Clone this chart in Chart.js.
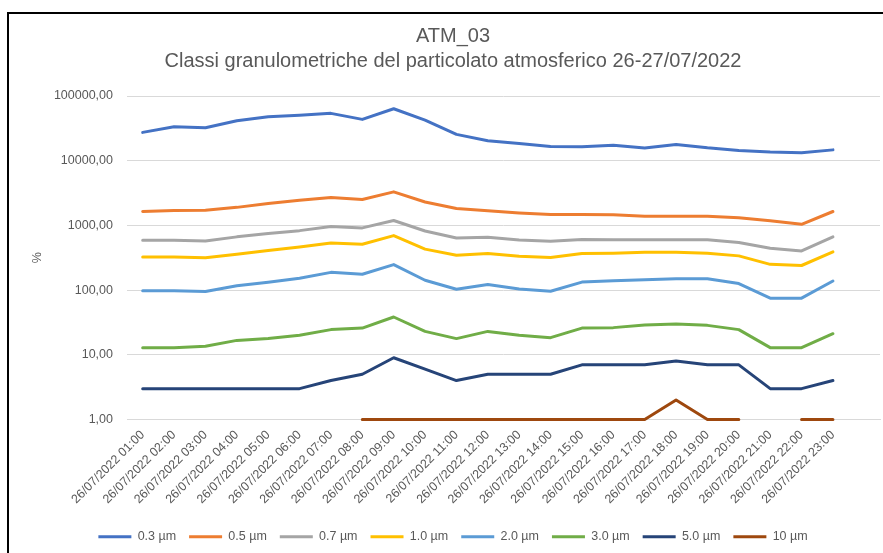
<!DOCTYPE html>
<html>
<head>
<meta charset="utf-8">
<script src="https://cdn.jsdelivr.net/npm/chart.js@4"></script>
<style>
  html, body { margin: 0; padding: 0; background: #fff; }
  #frame { position: absolute; left: 7px; top: 12px; width: 876px; height: 541px;
           border-top: 2px solid #000; border-left: 2px solid #000; box-sizing: border-box; }
  #wrap { position: absolute; left: 0; top: 0; width: 874px; height: 539px; }
</style>
</head>
<body>
<div id="frame"><div id="wrap"><canvas id="c"></canvas></div></div>
<script>
const categories = [
  '26/07/2022 01:00','26/07/2022 02:00','26/07/2022 03:00','26/07/2022 04:00',
  '26/07/2022 05:00','26/07/2022 06:00','26/07/2022 07:00','26/07/2022 08:00',
  '26/07/2022 09:00','26/07/2022 10:00','26/07/2022 11:00','26/07/2022 12:00',
  '26/07/2022 13:00','26/07/2022 14:00','26/07/2022 15:00','26/07/2022 16:00',
  '26/07/2022 17:00','26/07/2022 18:00','26/07/2022 19:00','26/07/2022 20:00',
  '26/07/2022 21:00','26/07/2022 22:00','26/07/2022 23:00',''
];
const seriesNames = ['0.3 µm','0.5 µm','0.7 µm','1.0 µm','2.0 µm','3.0 µm','5.0 µm','10 µm'];
const s03 = [27400,33500,32300,41500,47600,50300,53900,43500,63500,42500,25500,20300,18500,16600,16400,17400,15700,17800,15800,14400,13600,13300,14700];
const s05 = [1640,1700,1720,1900,2180,2450,2700,2510,3300,2300,1820,1680,1560,1470,1470,1460,1390,1390,1390,1310,1180,1040,1640];
const s07 = [590,590,575,665,750,830,960,915,1190,820,640,656,597,570,603,600,600,600,600,543,443,403,665];
const s10 = [325,325,315,357,408,465,535,510,695,430,345,367,333,318,367,372,385,385,372,338,250,240,390];
const s20 = [98,98,95,117,132,152,188,176,248,142,103,122,104,96,133,140,145,150,150,126,75,75,138];
const s30 = [12.9,12.9,13.6,16.7,17.9,20,24.5,25.9,38.4,23,17.8,23,20,18.4,25.9,26.3,28.8,29.9,28.5,24.5,12.9,12.9,21.2];
const s50 = [3,3,3,3,3,3,4,5,9,6,4,5,5,5,7,7,7,8,7,7,3,3,4];
const s100 = [null,null,null,null,null,null,null,1,1,1,1,1,1,1,1,1,1,2,1,1,null,1,1];
const yTickValues = [1,10,100,1000,10000,100000];
const yTickLabels = ['1,00','10,00','100,00','1000,00','10000,00','100000,00'];
const colors = ['#4472C4','#ED7D31','#A5A5A5','#FFC000','#5B9BD5','#70AD47','#264478','#9E480E'];
const allSeries = [s03,s05,s07,s10,s20,s30,s50,s100];

const FONT = "'Liberation Sans', Arial, sans-serif";
const TXT = '#595959';

new Chart(document.getElementById('c'), {
  type: 'line',
  data: {
    labels: categories,
    datasets: allSeries.map((d, i) => ({
      label: seriesNames[i],
      data: d,
      borderColor: colors[i],
      backgroundColor: colors[i],
      borderWidth: 3,
      pointRadius: 0,
      pointHoverRadius: 0,
      tension: 0,
      fill: false,
      spanGaps: false,
      borderJoinStyle: 'round',
      borderCapStyle: 'round',
      clip: 8
    }))
  },
  options: {
    responsive: true,
    maintainAspectRatio: false,
    animation: false,
    layout: { padding: { left: 17, right: 3, top: 0, bottom: 0 } },
    plugins: {
      title: {
        display: true,
        text: ['ATM_03', 'Classi granulometriche del particolato atmosferico 26-27/07/2022'],
        color: TXT,
        font: { family: FONT, size: 20, weight: 'normal', lineHeight: 1.25 },
        padding: { top: 10, bottom: 22 }
      },
      legend: {
        position: 'bottom',
        labels: {
          color: TXT,
          font: { family: FONT, size: 12.5 },
          usePointStyle: true,
          pointStyle: 'line',
          pointStyleWidth: 33,
          boxHeight: 3,
          padding: 13
        }
      },
      tooltip: { enabled: false }
    },
    scales: {
      x: {
        type: 'category',
        offset: true,
        grid: { display: false, drawTicks: false },
        border: { display: true, color: '#d9d9d9' },
        ticks: {
          color: TXT,
          font: { family: FONT, size: 12.5 },
          minRotation: 45,
          maxRotation: 45,
          autoSkip: false,
          padding: 8
        },
        afterFit: (s) => { s.height = 98; }
      },
      y: {
        type: 'logarithmic',
        min: 1,
        max: 100000,
        afterBuildTicks: (axis) => { axis.ticks = yTickValues.map(v => ({ value: v })); },
        grid: { color: '#d9d9d9', drawTicks: false },
        border: { display: false },
        ticks: {
          color: TXT,
          font: { family: FONT, size: 12.5 },
          padding: 14,
          callback: (v) => { const k = yTickValues.indexOf(v); return k >= 0 ? yTickLabels[k] : ''; }
        },
        title: { display: true, text: '%', color: TXT, font: { family: FONT, size: 12.5 } },
        afterFit: (s) => { s.width = 101; }
      }
    }
  }
});
</script>
</body>
</html>
